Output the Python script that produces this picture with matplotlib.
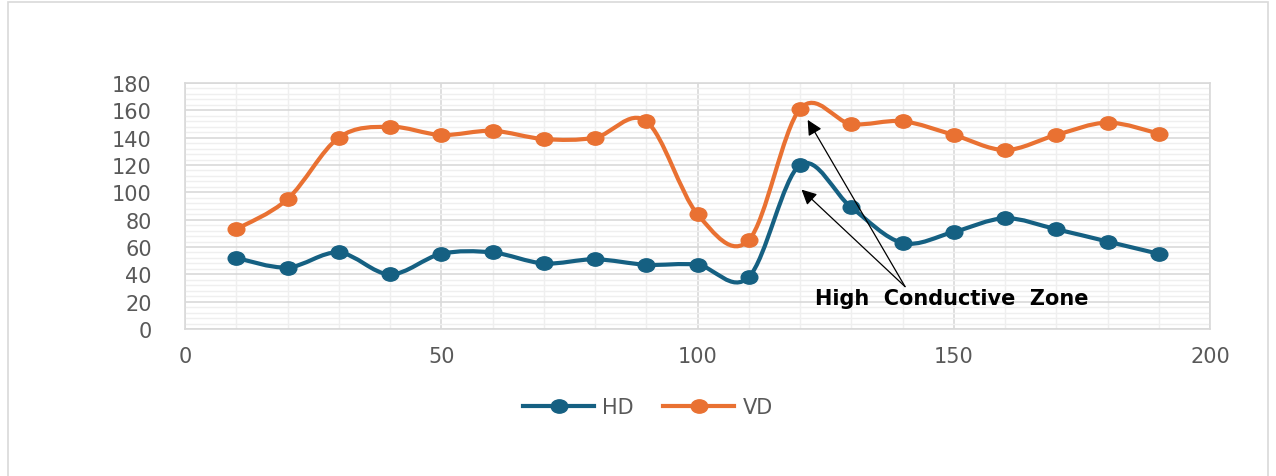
import matplotlib
matplotlib.use('Agg')
import matplotlib.pyplot as plt
from matplotlib.path import Path
from matplotlib.patches import PathPatch, Rectangle
from matplotlib.lines import Line2D
from matplotlib.transforms import Affine2D
import numpy as np

distance = [10, 20, 30, 40, 50, 60, 70, 80, 90, 100,
            110, 120, 130, 140, 150, 160, 170, 180, 190]
hd = [52, 45, 56, 40, 55, 56, 48, 51, 47, 47,
      38, 120, 89, 63, 71, 81, 73, 64, 55]
vd = [73, 95, 140, 148, 142, 145, 139, 140, 152, 84,
      65, 161, 150, 152, 142, 131, 142, 151, 143]

HD_COLOR = '#156082'
VD_COLOR = '#E97132'
TEXT_GRAY = '#595959'

# slightly wide ellipse marker, like the stretched original
oval = Path.unit_circle().transformed(Affine2D().scale(1.25, 1.0))


def smooth_path(xs, ys):
    # bezier curve through the points, similar to excel's smoothed line
    pts = np.column_stack([xs, ys]).astype(float)
    verts = [pts[0]]
    codes = [Path.MOVETO]
    n = len(pts)
    for i in range(n - 1):
        p0 = pts[i - 1] if i > 0 else pts[i]
        p1 = pts[i]
        p2 = pts[i + 1]
        p3 = pts[i + 2] if i + 2 < n else pts[i + 1]
        c1 = p1 + (p2 - p0) / 6.0
        c2 = p2 - (p3 - p1) / 6.0
        verts += [c1, c2, p2]
        codes += [Path.CURVE4] * 3
    return Path(verts, codes)


fig = plt.figure(figsize=(12.76, 4.77), dpi=100)
ax = fig.add_axes([185 / 1276, 1 - 330 / 477, 1025 / 1276, 246 / 477])

for xs, ys, col in [(distance, hd, HD_COLOR), (distance, vd, VD_COLOR)]:
    ax.add_patch(PathPatch(smooth_path(xs, ys), fill=False, edgecolor=col,
                           lw=3, capstyle='round', joinstyle='round', zorder=3))
    ax.plot(xs, ys, linestyle='none', marker=oval, markersize=12,
            color=col, zorder=4)

ax.set_xlim(0, 200)
ax.set_ylim(0, 180)
ax.set_xticks(np.arange(0, 201, 50))
ax.set_xticks(np.arange(0, 201, 10), minor=True)
ax.set_yticks(np.arange(0, 181, 20))
ax.set_yticks(np.arange(0, 181, 4), minor=True)
ax.grid(which='major', color='#d9d9d9', lw=1.2, zorder=0)
ax.grid(which='minor', color='#efefef', lw=1.0, zorder=0)
ax.set_axisbelow(True)
ax.tick_params(which='both', length=0)
ax.tick_params(axis='y', pad=24, labelsize=15, labelcolor=TEXT_GRAY)
ax.tick_params(axis='x', pad=12, labelsize=15, labelcolor=TEXT_GRAY)
for s in ax.spines.values():
    s.set_color('#d9d9d9')
    s.set_linewidth(1.2)

# annotation arrows
tail = (140.5, 31)
for tip in [(121.5, 153), (120.3, 102)]:
    ax.annotate('', xy=tip, xytext=tail,
                arrowprops=dict(arrowstyle='-|>,head_length=0.9,head_width=0.45',
                                color='black', lw=0.9, shrinkA=0, shrinkB=0),
                zorder=5)
ax.text(149.6, 23, 'High  Conductive  Zone', ha='center', va='center',
        fontsize=15, fontweight='bold', color='black', zorder=6)

handles = [Line2D([], [], color=HD_COLOR, lw=3, marker=oval, markersize=12),
           Line2D([], [], color=VD_COLOR, lw=3, marker=oval, markersize=12)]
leg = fig.legend(handles, ['HD', 'VD'], loc='center', ncol=2,
                 bbox_to_anchor=(648 / 1276, 1 - 408 / 477), frameon=False,
                 fontsize=15, handlelength=3.4, columnspacing=1.4,
                 handletextpad=0.4)
for t in leg.get_texts():
    t.set_color(TEXT_GRAY)

fig.patches.append(Rectangle((8 / 1276, -0.05), 1260 / 1276, 1.05 - 3 / 477,
                             transform=fig.transFigure, fill=False,
                             edgecolor='#d9d9d9', lw=1.2))

fig.savefig('out.png', dpi=100, facecolor='white')
